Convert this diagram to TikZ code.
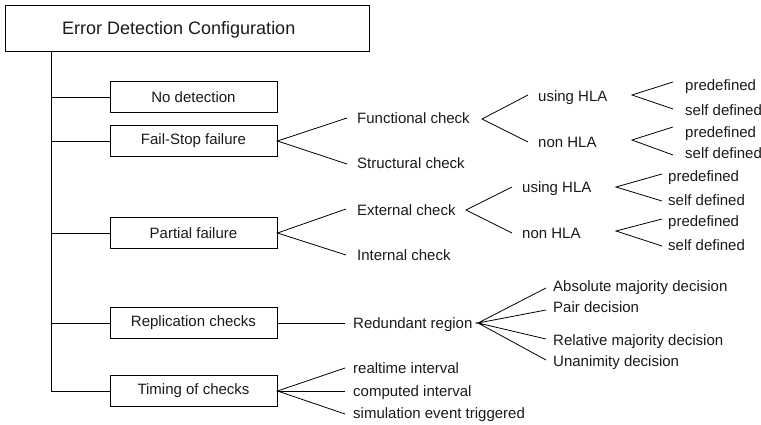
\documentclass[tikz,border=0pt]{standalone}
\usepackage{fontspec}
\setmainfont{Liberation Sans}
\definecolor{txt}{HTML}{1A1A1A}
\begin{document}
\begin{tikzpicture}[x=1pt,y=-1pt,
  box/.style={draw, line width=0.9pt, minimum width=167pt, minimum height=31pt, inner sep=0pt, font=\fontsize{15}{18}\selectfont, text=txt},
  lbl/.style={anchor=west, inner sep=0pt, text height=11pt, text depth=0pt, font=\fontsize{15}{18}\selectfont, text=txt},
  conn/.style={line width=0.8pt}]
\useasboundingbox (0,0) rectangle (761,425);
% title
\node[draw, line width=0.9pt, minimum width=364pt, minimum height=46pt, inner sep=0pt] (root) at (187,28) {};
\node[anchor=west, inner sep=0pt, text height=13pt, text depth=0pt, font=\fontsize{18}{21}\selectfont, text=txt] (roottxt) at (62,28) {Error Detection Configuration};
% trunk
\coordinate (trtop) at (51,51);
\coordinate (trbot) at (51,391);
\draw[conn] (trtop) -- (trbot);
% boxes
\node[box] (nd) at (193.5,97) {No detection};
\node[box] (fs) at (193.5,141) {Fail-Stop failure};
\node[box] (pf) at (193.5,233) {Partial failure};
\node[box] (rc) at (193.5,323) {Replication checks};
\node[box] (tc) at (193.5,391) {Timing of checks};
\foreach \n in {nd,fs,pf,rc,tc}{\draw[conn] (trtop |- \n.west) -- (\n.west);}
% labels
\node[lbl] (fc) at (357,118) {Functional check};
\node[lbl] (sc) at (357,163) {Structural check};
\node[lbl] (ec) at (357,210) {External check};
\node[lbl] (ic) at (357,255) {Internal check};
\node[lbl] (uh1) at (538,96) {using HLA};
\node[lbl] (nh1) at (538,142) {non HLA};
\node[lbl] (uh2) at (522,187) {using HLA};
\node[lbl] (nh2) at (522,233) {non HLA};
\node[lbl] (p1) at (685,85) {predefined};
\node[lbl] (s1) at (685,110) {self defined};
\node[lbl] (p2) at (685,132) {predefined};
\node[lbl] (s2) at (685,153) {self defined};
\node[lbl] (p3) at (668,176) {predefined};
\node[lbl] (s3) at (668,200) {self defined};
\node[lbl] (p4) at (668,221) {predefined};
\node[lbl] (s4) at (668,245) {self defined};
\node[lbl] (rr) at (353,323) {Redundant region};
\node[lbl] (am) at (553,286) {Absolute majority decision};
\node[lbl] (pd) at (553,307) {Pair decision};
\node[lbl] (rm) at (553,340) {Relative majority decision};
\node[lbl] (ud) at (553,361) {Unanimity decision};
\node[lbl] (rt) at (353,368) {realtime interval};
\node[lbl] (ci) at (353,391) {computed interval};
\node[lbl] (se) at (353,413) {simulation event triggered};
% fan origins
\coordinate (fco) at (482,119);
\coordinate (u1o) at (632,95);
\coordinate (n1o) at (632,140);
\coordinate (eco) at (466,210);
\coordinate (u2o) at (616,187);
\coordinate (n2o) at (616,231);
\coordinate (rro) at (478,323);
% fans
\draw[conn] (347,118) -- (fs.east) -- (347,164);
\draw[conn] (528,95) -- (fco) -- (528,142);
\draw[conn] (673,82) -- (u1o) -- (673,109);
\draw[conn] (673,127) -- (n1o) -- (673,155);
\draw[conn] (346,209) -- (pf.east) -- (346,255);
\draw[conn] (512,187) -- (eco) -- (512,233);
\draw[conn] (662,174) -- (u2o) -- (662,201);
\draw[conn] (662,219) -- (n2o) -- (662,246);
\draw[conn] (rc.east) -- (345,323);
\draw[conn] (546,288) -- (rro) -- (546,310);
\draw[conn] (546,339) -- (rro) -- (546,360);
\draw[conn] (345,368) -- (tc.east) -- (345,414);
\draw[conn] (tc.east) -- (345,391);
\end{tikzpicture}
\end{document}
